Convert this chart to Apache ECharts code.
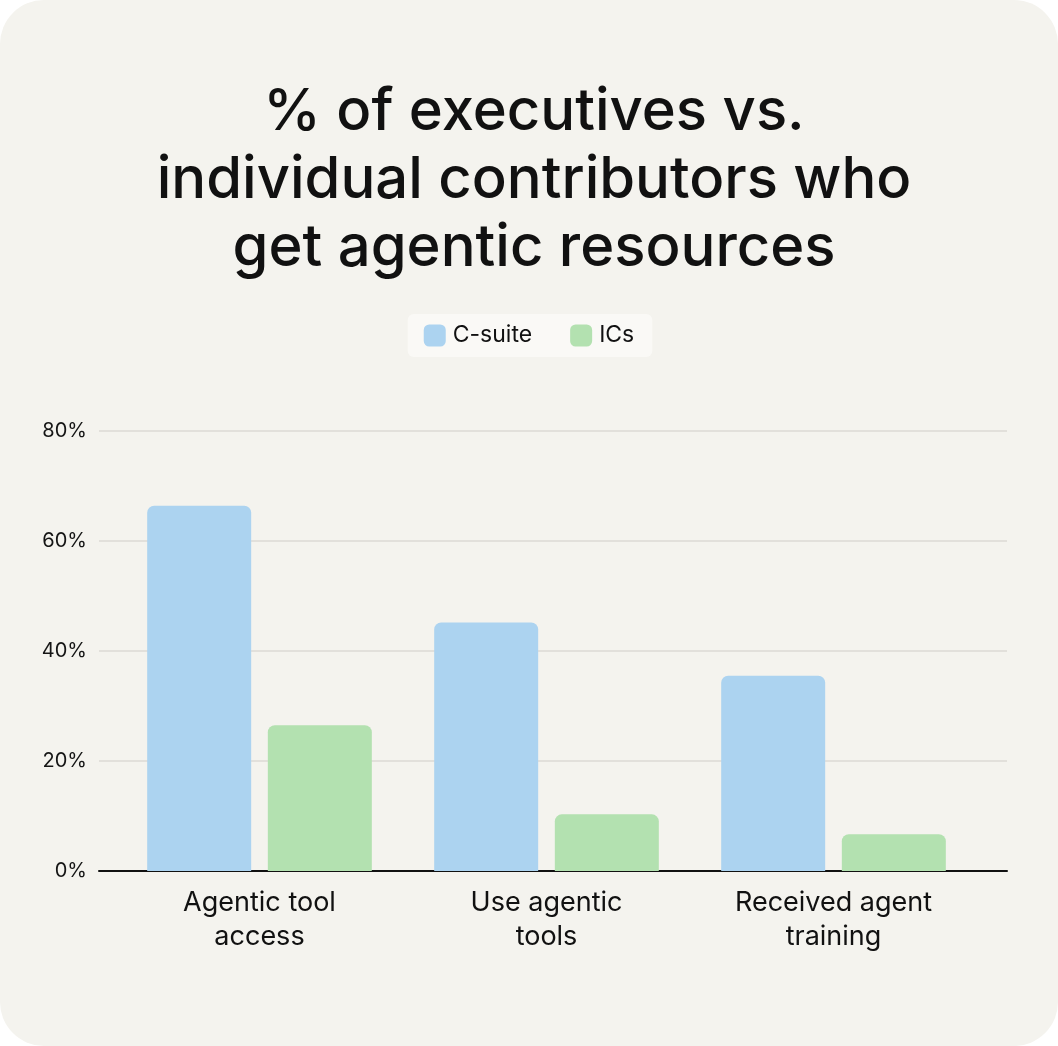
<!DOCTYPE html>
<html>
<head>
<meta charset="utf-8">
<script src="https://cdn.jsdelivr.net/npm/echarts@6/dist/echarts.min.js"></script>
<style>
  html, body { margin: 0; padding: 0; background: #ffffff; }
  #main { width: 1058px; height: 1046px; background: #f4f3ee; border-radius: 44px; overflow: hidden; }
</style>
</head>
<body>
<div id="main"></div>
<script>
// 数据
var categories = ['Agentic tool\naccess', 'Use agentic\ntools', 'Received agent\ntraining'];
var csuiteValues = [66.4, 45.2, 35.5];
var icValues = [26.5, 10.3, 6.7];
var yTicks = [0, 20, 40, 60, 80];

var FONT = 'Inter, "Noto Sans", sans-serif';

var myChart = echarts.init(document.getElementById('main'));

var option = {
  backgroundColor: 'transparent',
  animation: false,
  title: {
    text: '% of executives vs.\nindividual contributors who\nget agentic resources',
    left: 529,
    top: 74,
    textAlign: 'center',
    textStyle: {
      fontFamily: FONT,
      fontSize: 58,
      fontWeight: 500,
      lineHeight: 68,
      color: '#111111'
    }
  },
  legend: {
    top: 314,
    left: 'center',
    backgroundColor: '#faf9f6',
    borderRadius: 6,
    padding: [10, 18, 10, 16],
    itemWidth: 22,
    itemHeight: 22,
    itemGap: 38,
    icon: 'roundRect',
    textStyle: { fontFamily: FONT, fontSize: 23, color: '#111111', padding: [0, 0, 0, 2] },
    data: ['C-suite', 'ICs']
  },
  grid: [
    // 背景网格和坐标轴
    { left: 99, right: 51, top: 431, bottom: 175 },
    // 柱子
    { left: 116, right: 81, top: 431, bottom: 175 }
  ],
  xAxis: [
    {
      gridIndex: 0,
      type: 'category',
      data: [''],
      axisLine: { show: true, lineStyle: { color: '#111111', width: 2 } },
      axisTick: { show: false },
      axisLabel: { show: false },
      splitLine: { show: false }
    },
    {
      gridIndex: 1,
      type: 'category',
      data: categories,
      axisLine: { show: false },
      axisTick: { show: false },
      axisLabel: {
        margin: 15,
        fontFamily: FONT,
        fontSize: 27,
        lineHeight: 34,
        color: '#111111'
      }
    }
  ],
  yAxis: [
    {
      gridIndex: 0,
      type: 'value',
      min: yTicks[0],
      max: yTicks[yTicks.length - 1],
      interval: 20,
      axisLine: { show: false },
      axisTick: { show: false },
      axisLabel: {
        margin: 12,
        fontFamily: FONT,
        fontSize: 20,
        color: '#151515',
        formatter: function (v) { return v + '%'; }
      },
      splitLine: { lineStyle: { color: '#dcdad4', width: 1.5 } }
    },
    {
      gridIndex: 1,
      type: 'value',
      min: 0,
      max: 80,
      show: false
    }
  ],
  series: [
    {
      name: 'C-suite',
      type: 'bar',
      xAxisIndex: 1,
      yAxisIndex: 1,
      data: csuiteValues,
      barWidth: 104,
      barGap: '16%',
      itemStyle: { color: '#acd3f0', borderRadius: [7, 7, 0, 0] }
    },
    {
      name: 'ICs',
      type: 'bar',
      xAxisIndex: 1,
      yAxisIndex: 1,
      data: icValues,
      barWidth: 104,
      barGap: '16%',
      itemStyle: { color: '#b3e1b0', borderRadius: [7, 7, 0, 0] }
    }
  ]
};

myChart.setOption(option);
</script>
</body>
</html>
